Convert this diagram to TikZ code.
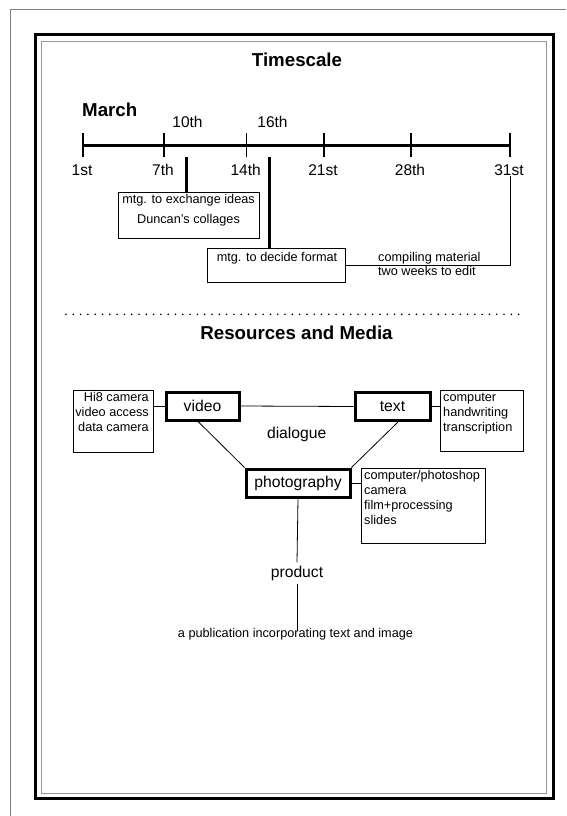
\documentclass[tikz,border=0pt]{standalone}
\usepackage{fontspec}
\setmainfont{Liberation Sans}
\usetikzlibrary{calc}
\definecolor{rimgray}{RGB}{128,128,128}
\definecolor{innergray}{RGB}{150,150,150}
\begin{document}
\begin{tikzpicture}[x=1pt,y=-1pt,
  headline/.style={font=\fontsize{18.7}{22}\selectfont\bfseries, inner sep=0pt},
  ticklab/.style={font=\fontsize{15.5}{18}\selectfont, inner sep=0pt},
  bodytext/.style={font=\fontsize{12.7}{15}\selectfont, inner sep=0pt},
  bigtext/.style={font=\fontsize{15.7}{18}\selectfont},
  thinbox/.style={draw, line width=1pt, inner sep=0pt},
  mediabox/.style={draw, line width=3pt, inner sep=0pt, font=\fontsize{15.7}{18}\selectfont},
  connector/.style={line width=0.8pt},
  tickmark/.style={line width=1.5pt},
]
\useasboundingbox (0,0) rectangle (566,816);

% page rims and double frame
\draw[rimgray, line width=1pt] (10,816) -- (10,10) -- (566,10);
\draw[line width=3pt] (35,35) rectangle (553,798);
\draw[innergray, line width=0.8pt] (41.7,41.7) rectangle (546,793);

% ---------------- Timescale ----------------
\node[headline, anchor=base] (ttl) at (297,66.7) {Timescale};
\node[headline, anchor=base west] (march) at (82,116.7) {March};

\coordinate (t1) at (83,145);
\coordinate (t7) at (164,145);
\coordinate (t10) at (186,145);
\coordinate (t14) at (246.7,145);
\coordinate (t16) at (269,145);
\coordinate (t21) at (324,145);
\coordinate (t28) at (411,145);
\coordinate (t31) at (510,145);

\draw[line width=3pt] (t1) -- (t31);
\foreach \t in {t1,t7,t14,t21,t28,t31}
  \draw[tickmark] ([yshift=-12pt]\t) -- ([yshift=12pt]\t);

\foreach \t/\lab in {t1/1st,t7/7th,t14/14th,t21/21st,t28/28th,t31/31st}
  \node[ticklab, anchor=base] (lab\t) at ($(\t)+(-1,30.5)$) {\lab};
\node[ticklab, anchor=base] (lab10) at (187.5,127.2) {10th};
\node[ticklab, anchor=base] (lab16) at (272.5,127.2) {16th};

% meeting boxes
\node[thinbox, minimum width=141pt, minimum height=46pt] (exch) at (188.5,215) {};
\node[bodytext, anchor=base] (exch1) at (exch.north |- 0,203) {mtg. to exchange ideas};
\node[bodytext, anchor=base] (exch2) at (exch.north |- 0,223) {Duncan's collages};

\node[thinbox, minimum width=138pt, minimum height=34pt] (fmt) at (276,265) {};
\node[bodytext, anchor=base] (fmt1) at (277,261.5) {mtg. to decide format};

\draw[line width=3pt] ([yshift=-12pt]t10) -- (exch.north -| t10);
\draw[line width=3pt] ([yshift=-12pt]t16) -- (fmt.north -| t16);

\coordinate (c31) at (510,176);
\draw[connector] (fmt.east) -- (fmt.east -| c31) -- (c31);
\node[bodytext, anchor=base west] (comp1) at (378,261.5) {compiling material};
\node[bodytext, anchor=base west] (comp2) at (378,275.5) {two weeks to edit};

% separator
\draw[line width=1.8pt, line cap=round, dash pattern=on 0pt off 7.3pt] (66,314.3) -- (522,314.3);

% ---------------- Resources and Media ----------------
\node[headline, anchor=base] (res) at (296.5,339.7) {Resources and Media};

\node[mediabox, minimum width=73pt, minimum height=28pt] (video) at (202.5,406) {video};
\node[mediabox, minimum width=75pt, minimum height=28pt] (text) at (392.5,406.5) {text};
\node[mediabox, minimum width=104pt, minimum height=28pt] (photo) at (298,483) {photography};

\node[bigtext] (dial) at (296.7,434) {dialogue};

% side lists
\node[thinbox, minimum width=80pt, minimum height=62pt] (hibox) at (113,421) {};
\node[bodytext, anchor=north east, align=right] (hitext) at (149,391.8)
  {Hi8 camera\\video access\\data camera};

\node[thinbox, minimum width=83pt, minimum height=61pt] (compbox) at (481.5,420.5) {};
\node[bodytext, anchor=north west, align=left] (comptext) at (443,392.8)
  {computer\\handwriting\\transcription};

\node[thinbox, minimum width=124pt, minimum height=75pt] (photobox) at (423,505.5) {};
\node[bodytext, anchor=north west, align=left] (phototext) at (364,469.8)
  {computer/photoshop\\camera\\film+processing\\slides};

% links
\draw[connector] (video.east) -- (text.west);
\draw[connector] (hibox.east |- video.center) -- (video.west);
\draw[connector] (text.east) -- (compbox.west |- text.east);
\draw[connector] (photo.east) -- (photobox.west |- photo.east);
\draw[connector] ([xshift=-4.5pt]video.south) -- (photo.north west);
\draw[connector] ([xshift=5.5pt]text.south) -- (photo.north east);

\node[bigtext, inner sep=3pt] (prod) at (297,573) {product};
\node[bodytext, anchor=base] (pub) at (295.5,637.5) {a publication incorporating text and image};
\draw[connector] (photo.south) -- (prod.north);
\draw[connector] (prod.south) -- ([yshift=-3pt]pub.north -| prod.south);
\end{tikzpicture}
\end{document}
